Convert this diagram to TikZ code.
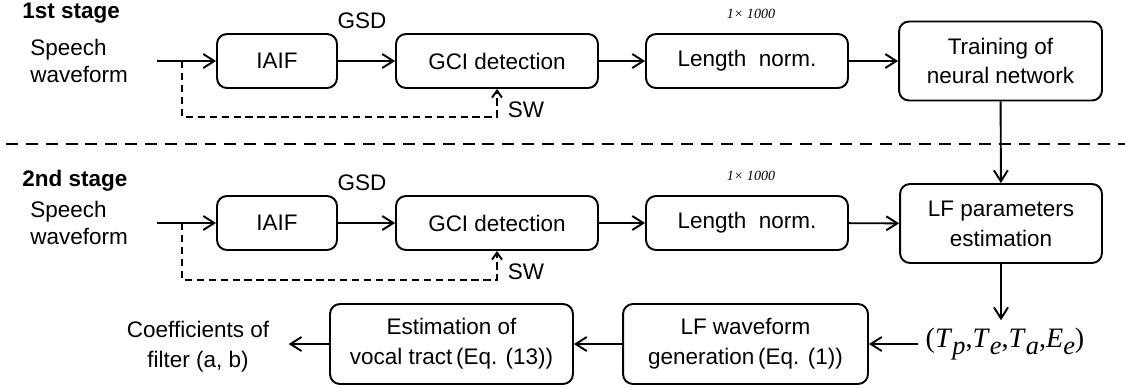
\documentclass[tikz,border=0pt]{standalone}
\usepackage{fontspec}
\setmainfont{Liberation Sans}
\newfontfamily\timesfont{Liberation Serif}
\usetikzlibrary{arrows.meta}
\newcommand\lfsym[2]{\textit{#1}\raisebox{-0.6ex}{\fontsize{15}{15}\selectfont\textit{#2}}}

\begin{document}
\begin{tikzpicture}[
  x=0.02cm, y=-0.02cm,
  every node/.style={
    font=\fontsize{12.8}{17}\selectfont,
    inner sep=0pt,
  },
  box/.style={draw, rounded corners=2mm, line width=1.1pt, align=center, minimum height=1.08cm},
  tallbox/.style={box, minimum height=1.58cm},
  flow/.style={line width=1.1pt, -{Straight Barb[length=2.2mm,width=2.8mm]}},
  sideflow/.style={line width=1.1pt, dash pattern=on 4.2pt off 2.6pt, -{Straight Barb[length=1.4mm,width=2mm]}},
  stage/.style={font=\fontsize{12.8}{15}\selectfont\bfseries, anchor=west},
  source/.style={font=\fontsize{12.8}{15.5}\selectfont, anchor=west, align=left},
  dims/.style={font=\fontsize{8}{9}\selectfont\timesfont\itshape},
]
\useasboundingbox (0,0) rectangle (1125,387);

\node[stage] (stageA) at (22,13) {1st stage};
\node[source] (speechA) at (30,61) {Speech\\waveform};
\node[box, minimum width=2.4cm] (iaifA) at (277,61) {IAIF};
\node[box, minimum width=4.04cm] (gciA) at (497,61) {GCI detection};
\node[box, minimum width=4.04cm] (lenA) at (747,61) {Length\ \ norm.};
\node[tallbox, minimum width=4.06cm] (trainA) at (1000.5,61) {Training of\\neural network};
\node (gsdA) at (362,21) {GSD};
\node (swA) at (526,110) {SW};
\node[dims] (dimA) at (751,14) {1× 1000};
\coordinate (inA) at (157,61);
\coordinate (brA) at (182,61);

\draw[flow] (inA) -- (iaifA.west);
\draw[flow] (iaifA) -- (gciA);
\draw[flow] (gciA) -- (lenA);
\draw[flow] (lenA) -- (trainA);
\draw[sideflow] (brA) -- ++(0,56) -| (gciA.south);

\coordinate (sepL) at (6,144);
\coordinate (sepR) at (1125,144);
\draw[line width=1.6pt, dash pattern=on 6.8pt off 4.5pt] (sepL) -- (sepR);

\node[stage] (stageB) at (22,181) {2nd stage};
\node[source] (speechB) at (30,223) {Speech\\waveform};
\node[box, minimum width=2.4cm] (iaifB) at (277,223) {IAIF};
\node[box, minimum width=4.04cm] (gciB) at (497,223) {GCI detection};
\node[box, minimum width=4.04cm] (lenB) at (747,223) {Length\ \ norm.};
\node[tallbox, minimum width=4.04cm] (lfpB) at (1001,223.5) {LF parameters\\estimation};
\node (gsdB) at (362,183) {GSD};
\node (swB) at (526,272) {SW};
\node[dims] (dimB) at (751,176) {1× 1000};
\coordinate (inB) at (157,223);
\coordinate (brB) at (182,223);

\draw[flow] (inB) -- (iaifB.west);
\draw[flow] (iaifB) -- (gciB);
\draw[flow] (gciB) -- (lenB);
\draw[flow] (lenB) -- (lfpB);
\draw[sideflow] (brB) -- ++(0,57) -| (gciB.south);
\draw[flow] (trainA) -- (lfpB);

\node[inner sep=4pt, font=\fontsize{16}{19}\selectfont\timesfont] (lfvals) at (1005,344)
  {(\lfsym{T}{p},\lfsym{T}{e},\lfsym{T}{a},\lfsym{E}{e})};
\node[tallbox, minimum width=4.9cm, minimum height=1.6cm] (lfwave) at (745.5,344) {LF waveform\\generation\,(Eq. (1))};
\node[tallbox, minimum width=4.86cm, minimum height=1.6cm] (vtract) at (451.5,344) {Estimation of\\vocal tract\,(Eq. (13))};
\node[inner xsep=11pt, align=center] (coefs) at (198,347) {Coefficients of\\filter (a, b)};

\draw[flow] (lfpB.south) -- (lfpB.south |- lfvals.north);
\draw[flow] (lfvals.west) -- (lfwave.east);
\draw[flow] (lfwave) -- (vtract);
\draw[flow] (vtract.west) -- (vtract.west -| coefs.east);

\end{tikzpicture}
\end{document}
